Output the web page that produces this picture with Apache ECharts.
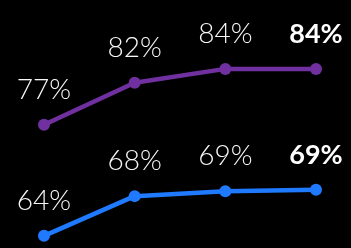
<!DOCTYPE html>
<html>
<head>
<meta charset="utf-8">
<script src="https://cdn.jsdelivr.net/npm/echarts@6/dist/echarts.min.js"></script>
<style>
  html, body { margin: 0; padding: 0; background: #000; }
  #chart { width: 351px; height: 248px; }
</style>
</head>
<body>
<div id="chart"></div>
<script>
const categories = ['P1', 'P2', 'P3', 'P4'];
const purpleValues = [77.1, 82.3, 84.0, 84.0];
const blueValues = [63.4, 68.3, 68.9, 69.1];
const purpleLabels = ['77%', '82%', '84%', '84%'];
const blueLabels = ['64%', '68%', '69%', '69%'];

const chart = echarts.init(document.getElementById('chart'));

function makeSeries(values, labels, color) {
    return {
        type: 'line',
        data: values.map((v, i) => ({
            value: v,
            label: i === values.length - 1 ? { fontWeight: 'bold', fontSize: 27, color: '#fff' } : undefined
        })),
        symbol: 'circle',
        symbolSize: 12,
        itemStyle: { color: color },
        lineStyle: { color: color, width: 4.5 },
        label: {
            show: true,
            position: 'top',
            distance: 15,
            color: '#f8f8f8',
            fontFamily: 'Lato',
            fontSize: 28,
            fontWeight: 300,
            formatter: p => labels[p.dataIndex]
        },
        animation: false
    };
}

chart.setOption({
    backgroundColor: '#000',
    grid: { left: 44, right: 35, top: 0, height: 248 },
    xAxis: { type: 'category', data: categories, boundaryGap: false, show: false },
    yAxis: { type: 'value', min: 61.9, max: 92.5, show: false },
    series: [
        makeSeries(purpleValues, purpleLabels, '#7030a0'),
        makeSeries(blueValues, blueLabels, '#1f7aff')
    ]
});
</script>
</body>
</html>
